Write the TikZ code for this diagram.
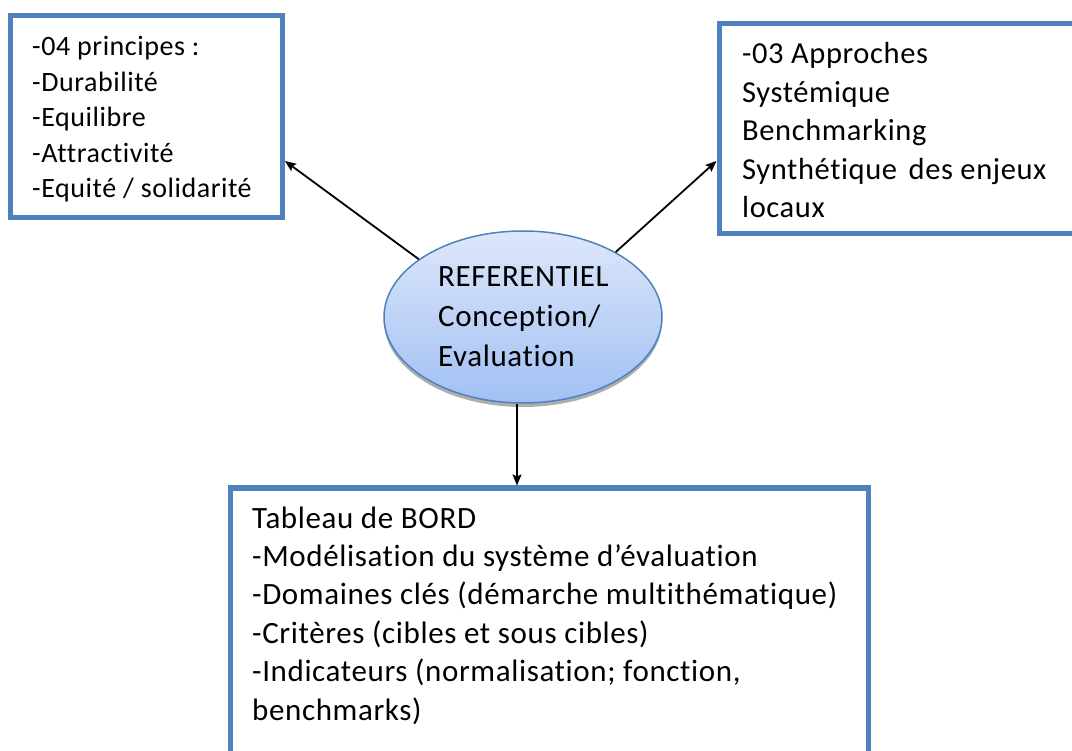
\documentclass[tikz,border=0pt]{standalone}
\usepackage{fontspec}
\setmainfont{Carlito}[LetterSpace=2, Ligatures={NoCommon}]
\usetikzlibrary{arrows.meta,shapes.geometric,shadows}
\definecolor{boxblue}{HTML}{4F81BD}
\definecolor{elltop}{HTML}{DDE7FA}
\definecolor{ellbot}{HTML}{A1C0F3}
\begin{document}
\begin{tikzpicture}[x=1pt,y=-1pt,
  box/.style={draw=boxblue, line width=5pt, fill=white, rectangle, inner sep=0pt},
  txt/.style={anchor=base west, align=left, inner sep=0pt, text=black},
  arr/.style={-{Stealth[length=11pt,width=9pt,inset=2pt]}, line width=1.8pt, black}
]
\useasboundingbox (0,0) rectangle (1072,751);
\clip (0,0) rectangle (1072,751);

% boxes
\node[box, minimum width=272pt, minimum height=202pt] (b1) at (146.5,116.5) {};
\node[box, minimum width=400pt, minimum height=210pt] (b2) at (919,129) {};
\node[box, minimum width=637.5pt, minimum height=300pt] (b3) at (549.25,638) {};

% ellipse
\node[ellipse, draw=boxblue, line width=1.5pt, minimum width=278pt, minimum height=172pt,
      inner sep=0pt, top color=elltop, bottom color=ellbot,
      drop shadow={shadow xshift=0pt, shadow yshift=-4pt, fill=black!45, opacity=0.7}] (ell) at (523,317) {};

% texts (anchored at the baseline of the last line)
\node[txt, font=\fontsize{28}{35.5}\selectfont] (t1) at (32,198)
  {-04 principes :\\-Durabilité\\-Equilibre\\-Attractivité\\-Equité / solidarité};
\node[txt, font=\fontsize{30.5}{38.5}\selectfont] (t2) at (742,218)
  {-03 Approches\\Systémique\\Benchmarking\\Synthétique\hspace{4pt} des enjeux\\locaux};
\node[txt, font=\fontsize{31}{38.4}\selectfont] (t3) at (252,720)
  {Tableau de BORD\\-Modélisation du système d’évaluation\\-Domaines clés (démarche multithématique)\\-Critères (cibles et sous cibles)\\-Indicateurs (normalisation; fonction,\\benchmarks)};
\node[txt, font=\fontsize{31}{40}\selectfont] (t0) at (438,367)
  {REFERENTIEL\\Conception/\\Evaluation};

% connectors
\draw[arr] (ell.151) -- (b1.east |- 0,161);
\draw[arr] (ell.35) -- (b2.west |- 0,161);
\draw[arr] (ell.south -| 517,0) -- (517,0 |- b3.north);
\end{tikzpicture}
\end{document}
